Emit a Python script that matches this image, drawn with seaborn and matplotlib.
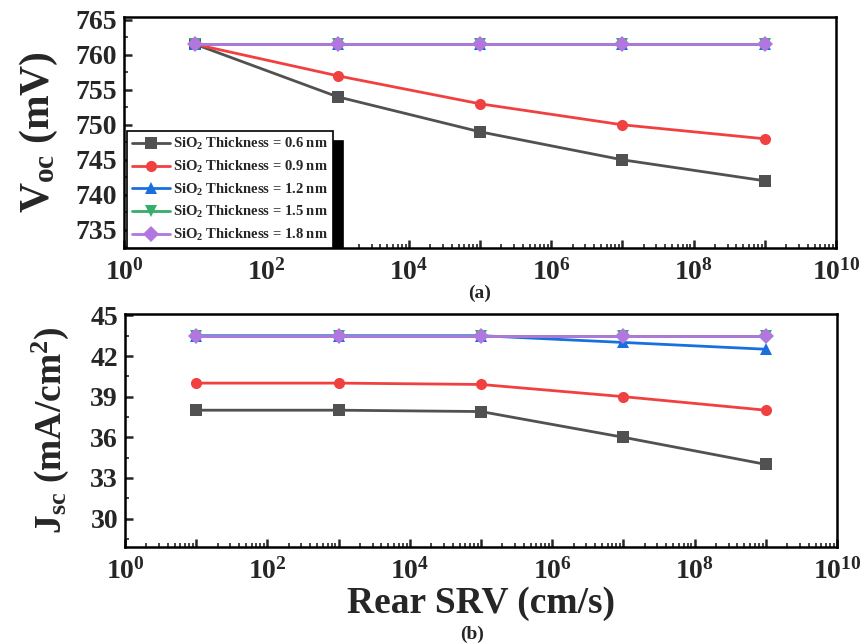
"""
Rear SRV dependence of Voc and Jsc for different SiO2 thicknesses
"""
import matplotlib
matplotlib.use('Agg')
import numpy as np
import pandas as pd
import matplotlib.pyplot as plt
import seaborn as sns
from matplotlib.ticker import LogLocator, MultipleLocator, NullFormatter

sns.set_style('ticks')

# fonts (Times-like bold everywhere)
plt.rcParams['font.family'] = ['Liberation Serif', 'DejaVu Serif']
plt.rcParams['font.weight'] = 'bold'
plt.rcParams['mathtext.fontset'] = 'custom'
plt.rcParams['mathtext.default'] = 'rm'
plt.rcParams['mathtext.rm'] = 'Liberation Serif:bold'
plt.rcParams['mathtext.it'] = 'Liberation Serif:bold'
plt.rcParams['mathtext.bf'] = 'Liberation Serif:bold'
plt.rcParams['axes.linewidth'] = 1.8

# data
srv = [1e1, 1e3, 1e5, 1e7, 1e9]
thickness = ['0.6', '0.9', '1.2', '1.5', '1.8']
voc = {
    '0.6': [761.5, 754.0, 749.0, 745.0, 742.0],
    '0.9': [761.5, 757.0, 753.0, 750.0, 748.0],
    '1.2': [761.5, 761.5, 761.5, 761.5, 761.5],
    '1.5': [761.5, 761.5, 761.5, 761.5, 761.5],
    '1.8': [761.5, 761.5, 761.5, 761.5, 761.5],
}
jsc = {
    '0.6': [38.0, 38.0, 37.9, 36.0, 34.0],
    '0.9': [40.0, 40.0, 39.9, 39.0, 38.0],
    '1.2': [43.5, 43.5, 43.5, 43.0, 42.5],
    '1.5': [43.5, 43.5, 43.5, 43.5, 43.5],
    '1.8': [43.5, 43.5, 43.5, 43.5, 43.5],
}
colors = ['#515151', '#F14040', '#1A6FDF', '#37AD6B', '#B177DE']
markers = ['s', 'o', '^', 'v', 'D']

labels = [f'SiO$_2$ Thickness = {t} nm' for t in thickness]
rows = []
for t, lab in zip(thickness, labels):
    for i, x in enumerate(srv):
        rows.append({'SRV': x, 'Voc': voc[t][i], 'Jsc': jsc[t][i], 'label': lab})
df = pd.DataFrame(rows)

fig = plt.figure(figsize=(8.62, 6.44), dpi=100)
ax1 = fig.add_axes([0.1439, 0.6149, 0.8259, 0.3587])
ax2 = fig.add_axes([0.1450, 0.1506, 0.8260, 0.3618])

for ax, col in [(ax1, 'Voc'), (ax2, 'Jsc')]:
    sns.lineplot(data=df, x='SRV', y=col, hue='label', style='label',
                 hue_order=labels, style_order=labels,
                 palette=colors, markers=markers, dashes=False,
                 markersize=8, markeredgewidth=0, linewidth=2,
                 legend=False, ax=ax)
    ax.set_xscale('log')
    ax.set_xlim(1, 1e10)
    decades = [10.0 ** k for k in range(0, 11)]
    ax.set_xticks(decades)
    ax.set_xticklabels([f'$10^{{{k}}}$' if k % 2 == 0 else '' for k in range(0, 11)])
    ax.xaxis.set_minor_locator(LogLocator(base=10, subs=np.arange(2, 10), numticks=20))
    ax.xaxis.set_minor_formatter(NullFormatter())
    ax.tick_params(axis='both', which='major', direction='in', length=6, width=1.8,
                   labelsize=20, top=False, right=False)
    ax.tick_params(axis='x', which='major', pad=8)
    ax.tick_params(axis='y', which='major', pad=5)
    ax.tick_params(axis='both', which='minor', direction='in', length=3, width=1.2,
                   top=False, right=False)
    ax.set_xlabel('')
    for s in ax.spines.values():
        s.set_visible(True)
        s.set_linewidth(1.8)
        s.set_color('black')
    for lab in ax.get_xticklabels() + ax.get_yticklabels():
        lab.set_fontweight('bold')

ax1.set_ylim(732.4, 765.4)
ax1.set_yticks([735, 740, 745, 750, 755, 760, 765])
ax1.yaxis.set_minor_locator(MultipleLocator(2.5))
ax1.set_ylabel('V$_{oc}$ (mV)', fontsize=30, fontweight='bold', labelpad=11)

ax2.set_ylim(27.9, 45.1)
ax2.set_yticks([30, 33, 36, 39, 42, 45])
ax2.yaxis.set_minor_locator(MultipleLocator(1.5))
ax2.set_ylabel('J$_{sc}$ (mA/cm$^2$)', fontsize=27, fontweight='bold', labelpad=14)
ax2.set_xlabel('Rear SRV (cm/s)', fontsize=27, fontweight='bold', labelpad=1)

leg = ax1.legend(ax1.lines[:5], labels, loc='lower left', bbox_to_anchor=(0.004, 0.0),
                 borderaxespad=0, fancybox=False, edgecolor='black', framealpha=1,
                 fontsize=10.5, handlelength=2.6, handletextpad=0.2, labelspacing=0.45,
                 borderpad=0.35,
                 shadow={'ox': 7, 'oy': -7, 'color': 'black', 'alpha': 1,
                         'clip_box': ax1.bbox})
leg.get_frame().set_linewidth(1.2)
for t in leg.get_texts():
    t.set_fontweight('bold')

fig.text(480 / 862, 1 - 293 / 644, '(a)', ha='center', va='center', fontsize=14, fontweight='bold')
fig.text(472 / 862, 1 - 634 / 644, '(b)', ha='center', va='center', fontsize=14, fontweight='bold')

fig.savefig('out.png', dpi=100)
